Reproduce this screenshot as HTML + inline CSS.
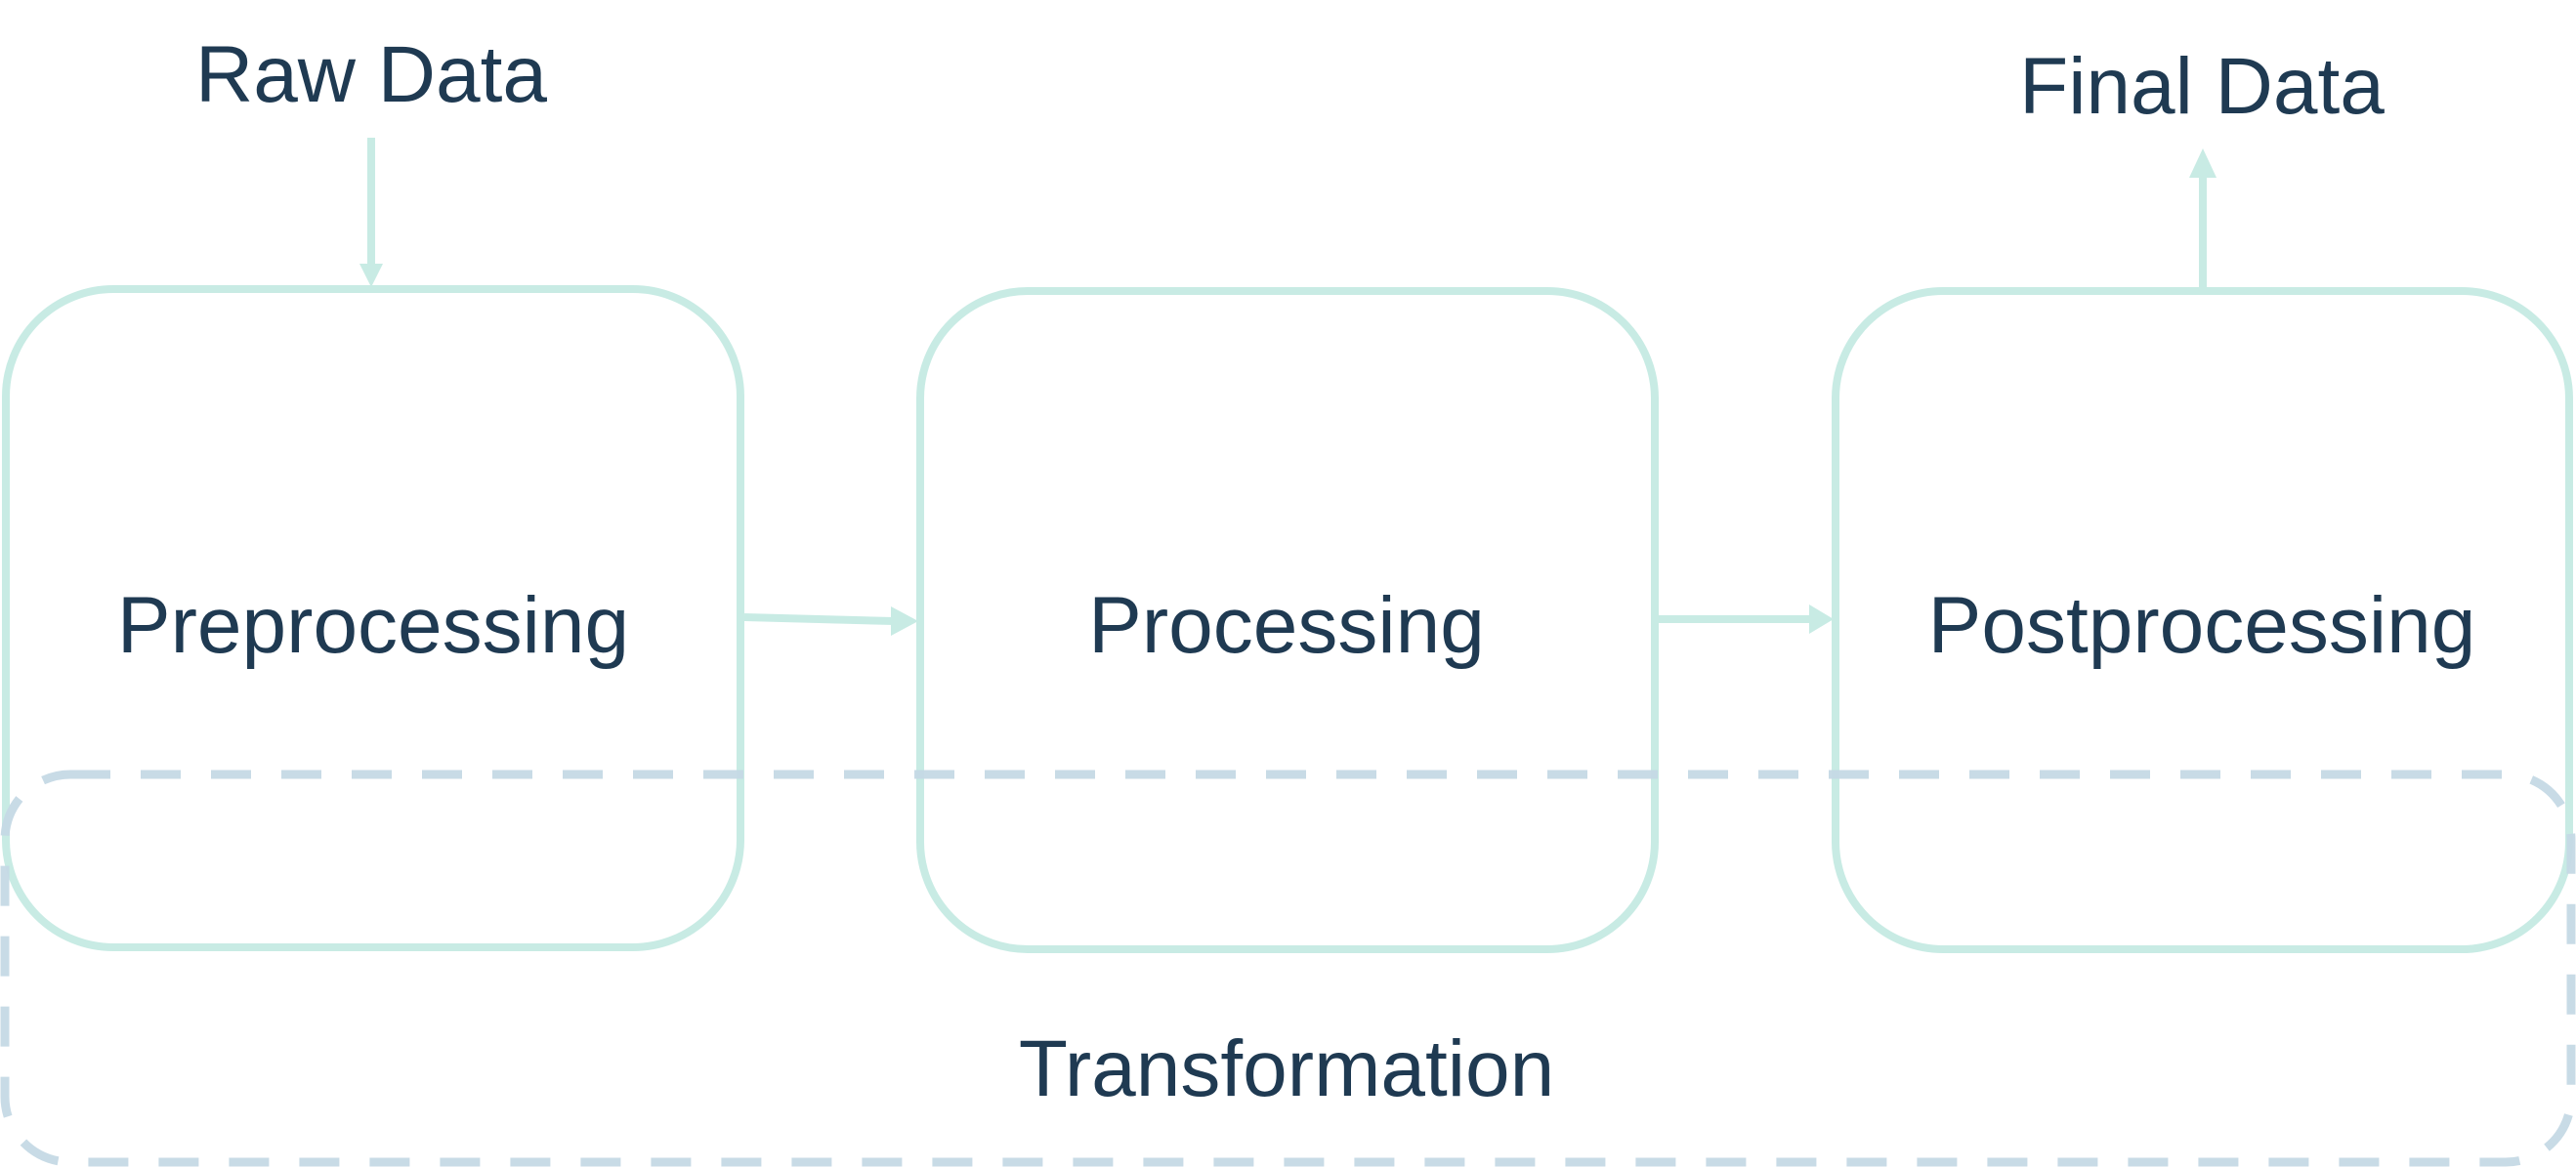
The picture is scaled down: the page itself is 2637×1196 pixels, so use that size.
<!DOCTYPE html>
<html><head><meta charset="utf-8"><style>
html,body{margin:0;padding:0;background:#fff;}
svg{display:block;}
text{font-family:"Liberation Sans",Arial,sans-serif;fill:#1f3a52;text-anchor:middle;}
</style></head><body>
<svg width="2637" height="1196" viewBox="0 0 2637 1196" xmlns="http://www.w3.org/2000/svg">
<g fill="none" stroke="#c8ebe4" stroke-width="8">
<rect x="6" y="296" width="752" height="674" rx="110" ry="110"/>
<rect x="942" y="298" width="752" height="674" rx="110" ry="110"/>
<rect x="1879" y="298" width="751" height="674" rx="110" ry="110"/>
<line x1="380" y1="141" x2="380" y2="272"/>
<line x1="762" y1="632" x2="915" y2="636"/>
<line x1="1698" y1="634" x2="1855" y2="634"/>
<line x1="2255" y1="298" x2="2255" y2="178"/>
</g>
<g fill="#c8ebe4">
<polygon points="368,270 392,270 380,294"/>
<polygon points="912,621 912,651 940,636"/>
<polygon points="1852,619 1852,649 1877,634"/>
<polygon points="2241,182 2269,182 2255,152"/>
</g>
<rect x="5" y="793" width="2627" height="397" rx="67" ry="67" fill="none" stroke="#c5d9e5" stroke-width="9" stroke-dasharray="41 31" opacity="0.95"/>
<text x="382" y="668" font-size="82">Preprocessing</text>
<text x="1317" y="668" font-size="82">Processing</text>
<text x="2254" y="668" font-size="82">Postprocessing</text>
<text x="380" y="104" font-size="82">Raw Data</text>
<text x="2254" y="116" font-size="82">Final Data</text>
<text x="1317" y="1122" font-size="82">Transformation</text>
</svg>
</body></html>
